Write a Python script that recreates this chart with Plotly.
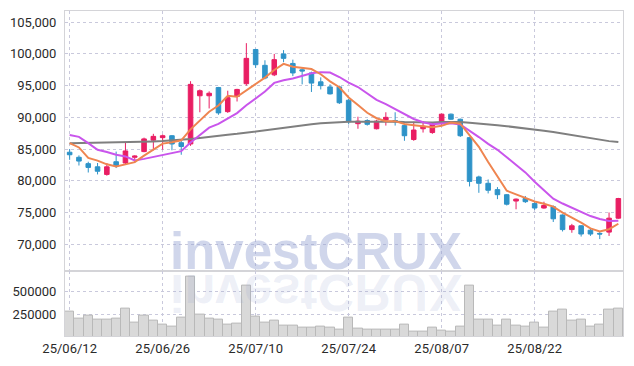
import plotly.graph_objects as go
from plotly.subplots import make_subplots

dates = ["25/06/12", "25/06/13", "25/06/16", "25/06/17", "25/06/18", "25/06/19", "25/06/20", "25/06/23", "25/06/24", "25/06/25",
         "25/06/26", "25/06/27", "25/06/30", "25/07/01", "25/07/02", "25/07/03", "25/07/04", "25/07/07", "25/07/08", "25/07/09",
         "25/07/10", "25/07/11", "25/07/14", "25/07/15", "25/07/16", "25/07/17", "25/07/18", "25/07/21", "25/07/22", "25/07/23",
         "25/07/24", "25/07/25", "25/07/28", "25/07/29", "25/07/30", "25/07/31", "25/08/01", "25/08/04", "25/08/05", "25/08/06",
         "25/08/07", "25/08/08", "25/08/11", "25/08/12", "25/08/13", "25/08/14", "25/08/18", "25/08/19", "25/08/20", "25/08/21",
         "25/08/22", "25/08/25", "25/08/26", "25/08/27", "25/08/28", "25/08/29", "25/09/01", "25/09/02", "25/09/03", "25/09/04"]

opens = [84500, 83700, 82700, 82200, 81000, 83000, 82800, 83700, 84600, 86400,
         86800, 87100, 86000, 85800, 93400, 93400, 94700, 90900, 93300, 95300,
         100700, 98200, 96700, 100000, 98500, 97500, 97000, 95600, 94800, 94800,
         92700, 89000, 89500, 88200, 89600, 89500, 88700, 86500, 88200, 87600,
         89200, 90500, 89700, 86800, 80600, 79600, 78600, 77800, 76800, 77200,
         76400, 75700, 75900, 74600, 72300, 72900, 72200, 71700, 71900, 74100]
highs = [85000, 84000, 83000, 82800, 82800, 84600, 86100, 84000, 86800, 87400,
         87300, 87200, 86500, 95700, 94400, 94100, 94800, 94200, 94500, 101700,
         100800, 99000, 100000, 100600, 99100, 97900, 97200, 96300, 95200, 95000,
         92900, 90100, 89700, 89600, 90800, 90800, 88800, 89300, 89400, 89200,
         90600, 90600, 89800, 86900, 80800, 80200, 79000, 77900, 77200, 77600,
         76800, 76700, 76100, 74700, 73200, 73000, 72400, 71900, 75000, 77300]
lows = [83300, 82400, 81300, 81000, 80800, 82000, 82500, 82900, 84500, 84800,
        84900, 84800, 84100, 85500, 90800, 91400, 90400, 90700, 92500, 95000,
        97800, 96000, 96500, 98700, 96500, 95200, 94000, 94400, 93600, 92100,
        88900, 88200, 88700, 88100, 88700, 88700, 86300, 86300, 87600, 87400,
        88800, 89600, 86900, 79100, 78100, 78000, 77100, 76100, 75500, 76500,
        75400, 75600, 73500, 72000, 71800, 71200, 71300, 70800, 71300, 74000]
closes = [84100, 83100, 82100, 81500, 82200, 82400, 84700, 83900, 86600, 87000,
          87100, 85800, 85400, 95200, 94200, 93800, 90700, 93100, 94400, 99300,
          98300, 96200, 99100, 99300, 97000, 97300, 95400, 95000, 93700, 92300,
          89300, 89400, 88900, 89400, 90000, 89300, 87100, 88000, 88600, 89100,
          90500, 89700, 87100, 79900, 79600, 78500, 77800, 76300, 77100, 76700,
          75700, 76100, 74000, 72300, 72900, 71600, 71600, 71600, 74100, 77200]
volumes = [286000, 211000, 243000, 200000, 200000, 211000, 318000, 168000, 243000, 189000,
           147000, 125000, 222000, 661000, 254000, 211000, 200000, 147000, 157000, 564000,
           232000, 168000, 189000, 136000, 136000, 115000, 115000, 125000, 115000, 93000,
           222000, 104000, 93000, 93000, 93000, 93000, 147000, 72000, 72000, 115000,
           82000, 72000, 125000, 564000, 200000, 200000, 136000, 200000, 136000, 125000,
           168000, 115000, 286000, 307000, 189000, 200000, 125000, 147000, 307000, 318000]
ma5 = [85940, 85250, 83590, 83170, 82590, 82260, 82580, 82940, 83960, 84920,
       85860, 86080, 86380, 88100, 89540, 90880, 91860, 93400, 93240, 94260,
       95160, 96260, 97460, 98440, 97980, 97780, 97620, 96800, 95680, 94740,
       93140, 91940, 90720, 89860, 89400, 89400, 88940, 88760, 88600, 88420,
       88660, 89180, 89000, 87260, 85360, 82960, 80580, 78420, 77860, 77280,
       76720, 76380, 75920, 74960, 74200, 73380, 72480, 72000, 72360, 73220]
ma10 = [87230, 86920, 85940, 84890, 84530, 84110, 83840, 83200, 83450, 83760,
        84060, 84330, 84660, 86030, 87230, 88370, 88970, 89890, 90670, 91900,
        93020, 94060, 95430, 95840, 96120, 96470, 96940, 97130, 97060, 96360,
        95460, 94780, 93760, 92770, 92070, 91270, 90440, 89740, 89230, 88910,
        89030, 89060, 88880, 87930, 86890, 85810, 84880, 83710, 82560, 81320,
        79840, 78480, 77170, 76410, 75740, 75050, 74430, 73960, 73660, 73710]
ma_long = [85900, 85920, 85950, 85980, 86000, 86030, 86070, 86110, 86150, 86200,
           86260, 86330, 86450, 86580, 86750, 86950, 87100, 87250, 87400, 87600,
           87800, 88000, 88200, 88400, 88600, 88750, 88900, 89050, 89150, 89250,
           89300, 89320, 89340, 89350, 89350, 89300, 89250, 89200, 89200, 89200,
           89250, 89300, 89250, 89150, 89050, 88900, 88750, 88600, 88450, 88300,
           88100, 87900, 87700, 87450, 87200, 86950, 86700, 86450, 86250, 86100]

price_ticks = [70000, 75000, 80000, 85000, 90000, 95000, 100000, 105000]
vol_ticks = [250000, 500000]
date_ticks = ["25/06/12", "25/06/26", "25/07/10", "25/07/24", "25/08/07", "25/08/22"]
watermark = "investCRUX"

UP = "#e91e63"
DOWN = "#2e93c8"
GRID = "#c9c9dc"
FRAME = "#d4d4d8"
FONT = "Roboto, sans-serif"

fig = make_subplots(rows=2, cols=1, shared_xaxes=True, vertical_spacing=0, row_heights=[0.8, 0.2])

fig.add_trace(go.Candlestick(
    x=dates, open=opens, high=highs, low=lows, close=closes,
    increasing=dict(line=dict(color=UP, width=1), fillcolor=UP),
    decreasing=dict(line=dict(color=DOWN, width=1), fillcolor=DOWN),
    showlegend=False, hoverinfo="skip"), row=1, col=1)

fig.add_trace(go.Scatter(x=dates, y=ma_long, mode="lines", line=dict(color="#7f7f7f", width=2),
                         showlegend=False, hoverinfo="skip"), row=1, col=1)
fig.add_trace(go.Scatter(x=dates, y=ma10, mode="lines", line=dict(color="#c955ec", width=2),
                         showlegend=False, hoverinfo="skip"), row=1, col=1)
fig.add_trace(go.Scatter(x=dates, y=ma5, mode="lines", line=dict(color="#ef8550", width=2),
                         showlegend=False, hoverinfo="skip"), row=1, col=1)

fig.add_trace(go.Bar(x=dates, y=volumes, marker=dict(color="#d9d9d9", line=dict(color="#b9b9b9", width=1)),
                     showlegend=False, hoverinfo="skip"), row=2, col=1)

split = 66 / 328
axis_common = dict(showline=True, linecolor=FRAME, linewidth=1, mirror=True, zeroline=False,
                   gridcolor=GRID, griddash="dot", gridwidth=1, ticks="",
                   tickfont=dict(family=FONT, size=13, color="#2a2a2a"))

fig.update_layout(
    width=634, height=366,
    margin=dict(l=60, r=10, t=10, b=28),
    paper_bgcolor="white", plot_bgcolor="white",
    bargap=0,
    showlegend=False,
    xaxis=dict(type="category", range=[-0.5, 59.5], tickvals=date_ticks, showticklabels=False,
               rangeslider=dict(visible=False), **axis_common),
    xaxis2=dict(type="category", range=[-0.5, 59.5], tickvals=date_ticks, ticktext=date_ticks,
                showticklabels=True, **axis_common),
    yaxis=dict(domain=[split, 1], range=[65830, 106770], tickvals=price_ticks, tickformat=",",
               ticklabelstandoff=5, **axis_common),
    yaxis2=dict(domain=[0, split], range=[21400, 728600], tickvals=vol_ticks, tickformat="d",
                ticklabelstandoff=5, **axis_common),
)

wm_font = dict(family="Liberation Sans, Arial, sans-serif", size=51, weight="bold")
fig.add_annotation(text=watermark, xref="paper", yref="paper", x=0.4504, y=(338 - 284) / 328,
                   xanchor="center", yanchor="bottom", showarrow=False,
                   font=dict(color="rgba(150,165,210,0.45)", **wm_font))
fig.add_annotation(text=watermark, xref="paper", yref="paper", x=0.4504, y=(338 - 284) / 328,
                   xanchor="center", yanchor="bottom", showarrow=False,
                   font=dict(color="rgba(150,165,210,0.17)", **wm_font))

post = """
var gd = document.getElementById('{plot_id}');
document.body.style.margin = '0';
function flipWm(){
  var g = gd.querySelector('.annotation[data-index="1"]');
  if (g) { g.setAttribute('transform', 'translate(0,544) scale(1,-1)'); }
}
flipWm();
gd.on('plotly_afterplot', flipWm);
"""

fig.write_html("out.html", post_script=post, config={"displayModeBar": False})
